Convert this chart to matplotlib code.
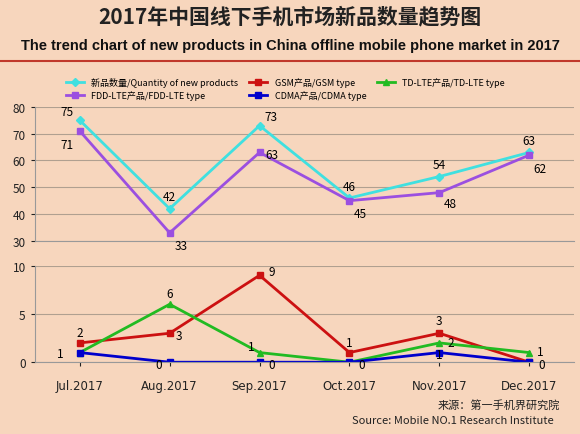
import matplotlib
matplotlib.use("Agg")
import matplotlib.pyplot as plt

months = ["Jul.2017", "Aug.2017", "Sep.2017", "Oct.2017", "Nov.2017", "Dec.2017"]
total = [75, 42, 73, 46, 54, 63]
fdd = [71, 33, 63, 45, 48, 62]
gsm = [2, 3, 9, 1, 3, 0]
td = [1, 6, 1, 0, 2, 1]
cdma = [1, 0, 0, 0, 1, 0]

plt.rcParams['font.family'] = ['Noto Sans CJK SC', 'DejaVu Sans']
bg = '#f7d6bd'
fig = plt.figure(figsize=(5.8, 4.35), dpi=100, facecolor=bg)
x = list(range(len(months)))

fig.text(0.5, 0.962, "2017年中国线下手机市场新品数量趋势图", ha='center', va='center',
         fontsize=15, fontweight='bold', color='#222222')
fig.text(0.5, 0.895, "The trend chart of new products in China offline mobile phone market in 2017",
         ha='center', va='center', fontsize=10.5, fontweight='bold', color='#111111', family=['Liberation Sans'])
fig.add_artist(plt.Line2D([0, 1], [0.858, 0.858], color='#c0392b', lw=1.5))

ax1 = fig.add_axes([0.06, 0.444, 0.93, 0.308], facecolor=bg)
ax2 = fig.add_axes([0.06, 0.165, 0.93, 0.222], facecolor=bg)

def style(ax):
    for s in ['top', 'right']:
        ax.spines[s].set_visible(False)
    ax.spines['left'].set_color('#999999')
    ax.spines['bottom'].set_color('#999999')
    ax.tick_params(labelsize=8.5, colors='#222222', length=3)
    ax.yaxis.grid(True, color='#b0a090', lw=0.8)
    ax.set_axisbelow(True)
    ax.set_xlim(-0.5, 5.5)

style(ax1); style(ax2)
lt, = ax1.plot(x, total, color='#40e0e0', marker='D', ms=4, lw=2, label='新品数量/Quantity of new products')
lf, = ax1.plot(x, fdd, color='#9b4fe0', marker='s', ms=4, lw=2, label='FDD-LTE产品/FDD-LTE type')
ax1.set_ylim(30, 80); ax1.set_yticks(range(30, 81, 10))
ax1.set_xticks([])
tot_off = [(-9, 4), (0, 6), (8, 4), (0, 6), (0, 6), (0, 6)]
fdd_off = [(-9, -12), (8, -12), (9, -4), (8, -12), (8, -10), (8, -12)]
for i in x:
    ax1.annotate(str(total[i]), (i, total[i]), xytext=tot_off[i], textcoords='offset points', ha='center', fontsize=8.5)
    ax1.annotate(str(fdd[i]), (i, fdd[i]), xytext=fdd_off[i], textcoords='offset points', ha='center', fontsize=8.5)

lg, = ax2.plot(x, gsm, color='#cc1111', marker='s', ms=4, lw=2, label='GSM产品/GSM type')
ltd, = ax2.plot(x, td, color='#22bb22', marker='^', ms=4, lw=2, label='TD-LTE产品/TD-LTE type')
lc, = ax2.plot(x, cdma, color='#0000cc', marker='s', ms=4, lw=2, label='CDMA产品/CDMA type')
ax2.set_ylim(0, 10); ax2.set_yticks([0, 5, 10])
ax2.set_xticks(x); ax2.set_xticklabels(months, family=['DejaVu Sans'])
ax2.tick_params(axis='x', pad=9)
gsm_off = [(0, 5), (7, -4), (9, 0), (0, 5), (0, 7), (0, 0)]
td_off = [(0, 0), (0, 5), (-6, 2), (0, 0), (8, -2), (8, -2)]
cd_off = [(-14, -3), (-8, -4), (9, -4), (9, -4), (0, -4), (9, -4)]
for i in x:
    if i != 5:
        ax2.annotate(str(gsm[i]), (i, gsm[i]), xytext=gsm_off[i], textcoords='offset points', ha='center', fontsize=8.5)
    if i in (1, 2, 4, 5):
        ax2.annotate(str(td[i]), (i, td[i]), xytext=td_off[i], textcoords='offset points', ha='center', fontsize=8.5)
    ax2.annotate(str(cdma[i]), (i, cdma[i]), xytext=cd_off[i], textcoords='offset points', ha='center', fontsize=8.5)

fig.legend(handles=[lt, lf, lg, lc, ltd], loc='upper left', bbox_to_anchor=(0.1, 0.84), ncol=3,
           frameon=False, fontsize=6.5, handlelength=2, columnspacing=1.2, labelspacing=0.4)
fig.text(0.86, 0.068, "来源：第一手机界研究院", ha='center', va='center', fontsize=8, color='#222222')
fig.text(0.955, 0.033, "Source: Mobile NO.1 Research Institute", ha='right', va='center', fontsize=8, color='#222222')
fig.savefig("out.png", dpi=100, facecolor=bg)
